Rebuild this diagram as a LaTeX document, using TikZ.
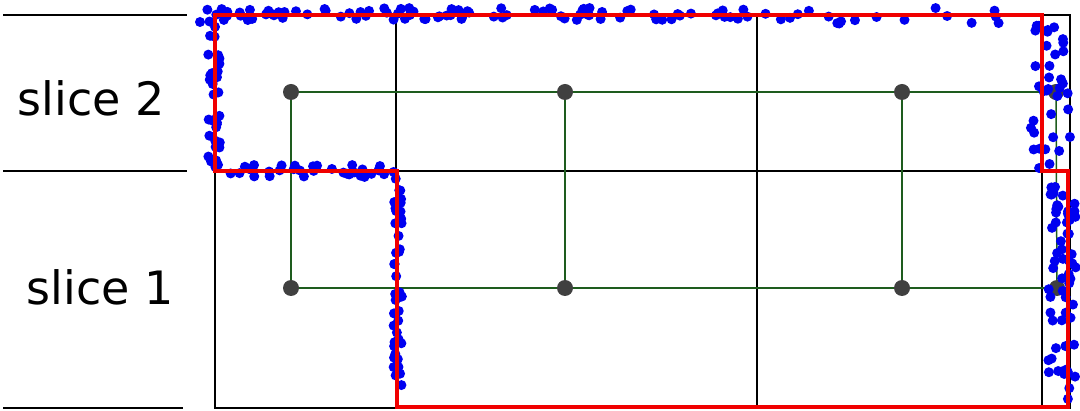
\documentclass[tikz,border=0pt]{standalone}
\usepackage{fontspec}
\setmainfont{DejaVu Sans}
\definecolor{gridgreen}{HTML}{1E5C1E}
\definecolor{nodegray}{HTML}{404040}
\definecolor{dotblue}{HTML}{0000F0}
\definecolor{pathred}{HTML}{F00000}
\tikzset{
  gridline/.style={black, line width=2.8pt},
  sliceline/.style={black, line width=1.6pt},
  edge/.style={gridgreen, line width=1.5pt},
  vert/.style={circle, fill=nodegray, minimum size=16pt, inner sep=0pt},
  redpath/.style={pathred, line width=4.5pt, line join=miter},
  bluedot/.style={fill=dotblue},
  lbl/.style={font=\fontsize{46}{52}\selectfont, inner sep=0pt}
}
\begin{document}
\begin{tikzpicture}[x=1pt,y=-1pt]
\useasboundingbox (0,0) rectangle (1080,411);
% slice separators
\draw[sliceline] (3,15) -- (187,15);
\draw[sliceline] (3,171) -- (187,171);
\draw[sliceline] (3,408) -- (183,408);
\node[lbl] (s2) at (91,98) {slice 2};
\node[lbl] (s1) at (100,287) {slice 1};
% grid
\draw[gridline] (215,15) rectangle (1070,408);
\draw[gridline] (215,171) -- (1070,171);
\draw[gridline] (396,15) -- (396,408);
\draw[gridline] (757,15) -- (757,408);
\draw[gridline] (1042,15) -- (1042,408);
% vertices
\node[vert] (a1) at (291,92) {};
\node[vert] (a2) at (565,92) {};
\node[vert] (a3) at (902,92) {};
\node[vert] (a4) at (1056,92) {};
\node[vert] (b1) at (291,288) {};
\node[vert] (b2) at (565,288) {};
\node[vert] (b3) at (902,288) {};
\node[vert] (b4) at (1057,288) {};
\draw[edge] (a1) -- (a2) -- (a3) -- (a4);
\draw[edge] (b1) -- (b2) -- (b3) -- (b4);
\draw[edge] (a1) -- (b1);
\draw[edge] (a2) -- (b2);
\draw[edge] (a3) -- (b3);
\draw[edge] (a4) -- (b4);
% blue dots
\pgfmathsetseed{7}
\foreach \i in {1,...,92}{
  \pgfmathsetmacro\px{205+585*rnd}\pgfmathsetmacro\py{14+6*rand}
  \fill[bluedot] (\px,\py) circle (5);}
\foreach \i in {1,...,16}{
  \pgfmathsetmacro\px{790+250*rnd}\pgfmathsetmacro\py{16+8*rand}
  \fill[bluedot] (\px,\py) circle (5);}
\foreach \i in {1,...,36}{
  \pgfmathsetmacro\px{214+6*rand}\pgfmathsetmacro\py{20+152*rnd}
  \fill[bluedot] (\px,\py) circle (5);}
\foreach \i in {1,...,32}{
  \pgfmathsetmacro\px{220+178*rnd}\pgfmathsetmacro\py{171+6*rand}
  \fill[bluedot] (\px,\py) circle (5);}
\foreach \i in {1,...,44}{
  \pgfmathsetmacro\px{398+5*rand}\pgfmathsetmacro\py{175+220*rnd}
  \fill[bluedot] (\px,\py) circle (5);}
\foreach \i in {1,...,36}{
  \pgfmathsetmacro\px{1050+20*rand}\pgfmathsetmacro\py{20+150*rnd}
  \fill[bluedot] (\px,\py) circle (5);}
\foreach \i in {1,...,62}{
  \pgfmathsetmacro\px{1062+14*rand}\pgfmathsetmacro\py{180+220*rnd}
  \fill[bluedot] (\px,\py) circle (5);}
\fill[bluedot] (200,22) circle (5);
% red region boundary
\draw[redpath] (215,15) -- (1042,15) -- (1042,171) -- (1068,171) -- (1068,407) -- (397,407) -- (397,171) -- (215,171) -- cycle;
\end{tikzpicture}
\end{document}
